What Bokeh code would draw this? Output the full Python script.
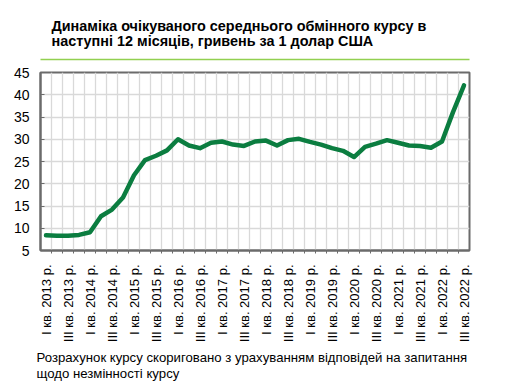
import math
from bokeh.plotting import figure
from bokeh.models import FixedTicker, Title, Range1d, LinearAxis
from bokeh.embed import file_html
from bokeh.resources import INLINE

quarters = []
for yr in range(2013, 2023):
    for q in ["I", "II", "III", "IV"]:
        quarters.append(f"{q} кв. {yr} р.")
quarters = quarters[:39]

rate = [8.4, 8.3, 8.3, 8.5, 9.1, 12.7, 14.2, 16.9, 21.9, 25.3,
        26.3, 27.5, 30.0, 28.6, 28.0, 29.2, 29.5, 28.8, 28.5, 29.5,
        29.7, 28.6, 29.8, 30.1, 29.4, 28.8, 28.0, 27.4, 26.0, 28.3,
        29.0, 29.8, 29.2, 28.6, 28.5, 28.1, 29.5, 36.1, 42.1]

y_ticks = [5, 10, 15, 20, 25, 30, 35, 40, 45]

title_lines = ["Динаміка очікуваного середнього обмінного курсу в",
               "наступні 12 місяців, гривень за 1 долар США"]
note_lines = ["Розрахунок курсу скориговано з урахуванням відповідей на запитання",
              "щодо незмінності курсу"]

xs = list(range(len(quarters)))

p = figure(width=500, height=383, output_backend="svg", toolbar_location=None,
           x_range=Range1d(-0.5, len(quarters) - 0.5), y_range=Range1d(5, 45),
           min_border_left=40, min_border_right=31, min_border_top=72,
           min_border_bottom=10)
p.background_fill_color = "white"
p.border_fill_color = "white"
p.outline_line_color = "#6b6b6b"
p.outline_line_width = 2

p.line(xs, rate, line_color="#0b7d40", line_width=4.5, line_join="round", line_cap="round")

# x axis
label_pos = [i for i, q in enumerate(quarters) if q.split(" ")[0] in ("I", "III")]
boundaries = [i + 0.5 for i in range(len(quarters) - 1)]
p.xaxis.ticker = FixedTicker(ticks=label_pos, minor_ticks=boundaries)
p.xaxis.major_label_overrides = {i: quarters[i] for i in label_pos}
p.xaxis.major_label_orientation = math.pi / 2
p.xaxis.major_tick_line_color = None
p.xaxis.minor_tick_line_color = "#6b6b6b"
p.xaxis.minor_tick_in = 0
p.xaxis.minor_tick_out = 3
p.xaxis.axis_line_color = "#6b6b6b"
p.xaxis.axis_line_width = 2
p.xaxis.major_label_text_font = "Liberation Sans"
p.xaxis.major_label_text_font_size = "13px"
p.xaxis.major_label_text_color = "#000000"
p.xaxis.major_label_standoff = 8
p.xgrid.grid_line_color = None
p.xgrid.minor_grid_line_color = "#d9d9d9"
p.xgrid.minor_grid_line_width = 1.3

# y axis
p.yaxis.ticker = FixedTicker(ticks=y_ticks)
p.yaxis.major_tick_in = 4
p.yaxis.major_tick_out = 0
p.yaxis.major_tick_line_color = "#6b6b6b"
p.yaxis.minor_tick_line_color = None
p.yaxis.axis_line_color = "#6b6b6b"
p.yaxis.axis_line_width = 2
p.yaxis.major_label_text_font = "Liberation Sans"
p.yaxis.major_label_text_font_size = "14px"
p.yaxis.major_label_text_color = "#000000"
p.yaxis.major_label_standoff = 11
p.ygrid.grid_line_color = "#d9d9d9"
p.ygrid.grid_line_width = 1.3

# spacer between frame and green rule
p.add_layout(Title(text=" ", text_font_size="6px", standoff=5), "above")
# green rule drawn as an axis line
rule = LinearAxis(ticker=FixedTicker(ticks=[]), axis_line_color="#92d050",
                  axis_line_width=1.5, major_tick_line_color=None,
                  minor_tick_line_color=None, major_label_text_font_size="0px")
p.add_layout(rule, "above")

# two-line title
p.add_layout(Title(text="\n".join(title_lines), align="left", offset=11, standoff=21,
                   text_line_height=0.93,
                   text_font="Liberation Sans", text_font_style="bold",
                   text_font_size="14.4px", text_color="#000000"), "above")

# two-line note
p.add_layout(Title(text="\n".join(note_lines), align="left", offset=-4, standoff=5,
                   text_line_height=1.07,
                   text_font="Liberation Sans", text_font_style="normal",
                   text_font_size="13.2px", text_color="#000000"), "below")

open("out.html", "w").write(file_html(p, INLINE))
